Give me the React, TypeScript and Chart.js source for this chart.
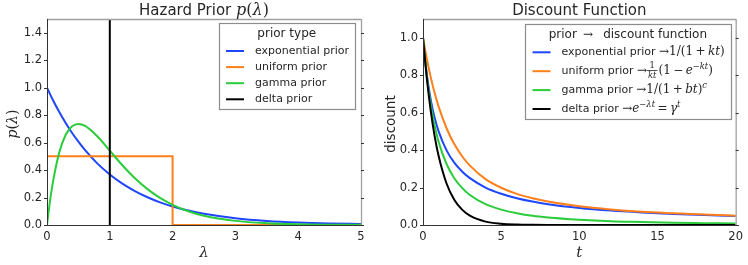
import { useEffect, useRef } from 'react';
import { Chart, registerables } from 'chart.js';
Chart.register(...registerables);

// ---------- data ----------
const LAMBDA = [0, 0.05, 0.1, 0.2, 0.3, 0.4, 0.5, 0.6, 0.8, 1.0, 1.2, 1.4, 1.6, 1.8, 2.0, 2.25, 2.5, 3, 3.5, 4, 4.5, 5];
const EXP_PRIOR = [1.0, 0.951, 0.905, 0.819, 0.741, 0.670, 0.607, 0.549, 0.449, 0.368, 0.301, 0.247, 0.202, 0.165, 0.135, 0.105, 0.082, 0.050, 0.030, 0.018, 0.011, 0.007];
const GAMMA_PRIOR = [0, 0.181, 0.327, 0.536, 0.659, 0.719, 0.736, 0.723, 0.646, 0.541, 0.435, 0.340, 0.261, 0.197, 0.147, 0.100, 0.067, 0.030, 0.013, 0.005, 0.002, 0.001];
const UNIFORM_X = [0, 2, 2, 5];
const UNIFORM_PRIOR = [0.5, 0.5, 0, 0];
const DELTA_X = [1, 1];
const DELTA_PRIOR = [0, 1.5];

const T = [0, 0.25, 0.5, 0.75, 1, 1.5, 2, 2.5, 3, 4, 5, 6, 7, 8, 10, 12, 14, 16, 18, 20];
const EXP_DISCOUNT = [1, 0.8, 0.667, 0.571, 0.5, 0.4, 0.333, 0.286, 0.25, 0.2, 0.167, 0.143, 0.125, 0.111, 0.091, 0.077, 0.067, 0.059, 0.053, 0.048];
const UNIFORM_DISCOUNT = [1, 0.885, 0.787, 0.703, 0.632, 0.518, 0.432, 0.367, 0.317, 0.245, 0.199, 0.166, 0.143, 0.125, 0.1, 0.083, 0.071, 0.063, 0.056, 0.05];
const GAMMA_DISCOUNT = [1, 0.790, 0.64, 0.529, 0.444, 0.327, 0.25, 0.198, 0.16, 0.111, 0.082, 0.063, 0.049, 0.04, 0.028, 0.020, 0.016, 0.012, 0.010, 0.008];
const DELTA_DISCOUNT = [1, 0.779, 0.607, 0.472, 0.368, 0.223, 0.135, 0.082, 0.050, 0.018, 0.0067, 0.0025, 0.0009, 0.0003, 0, 0, 0, 0, 0, 0];

const PRIOR_X_TICKS = [0, 1, 2, 3, 4, 5];
const PRIOR_Y_TICKS = [0, 0.2, 0.4, 0.6, 0.8, 1.0, 1.2, 1.4];
const DISC_X_TICKS = [0, 5, 10, 15, 20];
const DISC_Y_TICKS = [0, 0.2, 0.4, 0.6, 0.8, 1.0];

// ---------- style ----------
const SANS = '"DejaVu Sans", sans-serif';
const SERIF = '"DejaVu Serif", serif';
const TEXT = '#262626';
const BLUE = '#1f46ff';
const ORANGE = '#ff7f1a';
const GREEN = '#2bcc3b';
const BLACK = '#000000';
const THIN = '\u2009';

type Seg = { t: string; f: 'sans' | 'rm' | 'it'; sup?: boolean } | { num: Seg[]; den: Seg[] };

function fontOf(f: string, size: number) {
  if (f === 'sans') return `${size}px ${SANS}`;
  if (f === 'it') return `italic ${size}px ${SERIF}`;
  return `${size}px ${SERIF}`;
}

function rich(ctx: CanvasRenderingContext2D, segs: Seg[], x: number, base: number, size: number, mathSize: number, draw: boolean): number {
  let cx = x;
  for (const s of segs) {
    if ('num' in s) {
      const fs = mathSize * 0.7;
      const wn = rich(ctx, s.num, 0, 0, fs, fs, false);
      const wd = rich(ctx, s.den, 0, 0, fs, fs, false);
      const w = Math.max(wn, wd) + 2;
      if (draw) {
        rich(ctx, s.num, cx + (w - wn) / 2, base - mathSize * 0.5, fs, fs, true);
        rich(ctx, s.den, cx + (w - wd) / 2, base + mathSize * 0.32, fs, fs, true);
        ctx.fillRect(cx, base - mathSize * 0.34, w, 0.8);
      }
      cx += w + 1;
    } else {
      const sz = s.f === 'sans' ? size : mathSize;
      const fsz = s.sup ? sz * 0.7 : sz;
      ctx.font = fontOf(s.f, fsz);
      const w = ctx.measureText(s.t).width;
      if (draw) ctx.fillText(s.t, cx, s.sup ? base - sz * 0.42 : base);
      cx += w;
    }
  }
  return cx - x;
}

interface Decor {
  title: Seg[];
  xlabel: Seg[];
  ylabel: Seg[];
  ylabelBase: number;
  legendTitle: Seg[];
  entries: { color: string; segs: Seg[] }[];
  rowGap: number;
  firstRow: number;
  legendTop: number;
  legendRightGap: number;
}

function decorPlugin(d: Decor) {
  return {
    id: 'decor',
    afterDraw(chart: any) {
      const ctx: CanvasRenderingContext2D = chart.ctx;
      const a = chart.chartArea;
      const ys = chart.scales.y;
      ctx.save();
      // spines
      ctx.lineWidth = 1.3;
      ctx.strokeStyle = '#a0a0a0';
      ctx.beginPath();
      ctx.moveTo(a.left, a.top + 0.5);
      ctx.lineTo(a.right, a.top + 0.5);
      ctx.moveTo(a.right + 0.5, a.top);
      ctx.lineTo(a.right + 0.5, a.bottom);
      ctx.stroke();
      ctx.lineWidth = 1;
      ctx.strokeStyle = '#333333';
      ctx.beginPath();
      ctx.moveTo(a.left + 0.5, a.top);
      ctx.lineTo(a.left + 0.5, a.bottom + 0.5);
      ctx.moveTo(a.left, a.bottom + 0.5);
      ctx.lineTo(a.right + 3, a.bottom + 0.5);
      for (const tk of ys.ticks) {
        const py = Math.round(ys.getPixelForValue(tk.value)) + 0.5;
        ctx.moveTo(a.left - 3, py);
        ctx.lineTo(a.left, py);
        ctx.moveTo(a.right, py);
        ctx.lineTo(a.right + 3, py);
      }
      ctx.stroke();

      ctx.fillStyle = TEXT;
      ctx.textBaseline = 'alphabetic';
      ctx.textAlign = 'left';
      const cxm = (a.left + a.right) / 2;
      // title
      const tw = rich(ctx, d.title, 0, 0, 15, 16, false);
      rich(ctx, d.title, cxm - tw / 2, 15, 15, 16, true);
      // x label
      const xw = rich(ctx, d.xlabel, 0, 0, 14, 15, false);
      rich(ctx, d.xlabel, cxm - xw / 2, 256.5, 14, 15, true);
      // y label
      const yw = rich(ctx, d.ylabel, 0, 0, 13.5, 14, false);
      ctx.save();
      ctx.translate(d.ylabelBase, 124);
      ctx.rotate(-Math.PI / 2);
      rich(ctx, d.ylabel, -yw / 2, 0, 13.5, 14, true);
      ctx.restore();

      // legend
      const textOff = 36.5;
      let maxW = rich(ctx, d.legendTitle, 0, 0, 12, 12, false) - textOff + 20;
      for (const e of d.entries) maxW = Math.max(maxW, rich(ctx, e.segs, 0, 0, 11, 12, false));
      const bw = textOff + maxW + 6;
      const bx = a.right - d.legendRightGap - bw;
      const by = d.legendTop;
      const lastRow = by + d.firstRow + d.rowGap * (d.entries.length - 1);
      const bh = lastRow + 10.3 - by;
      ctx.fillStyle = '#ffffff';
      ctx.fillRect(bx, by, bw, bh);
      ctx.strokeStyle = '#8c8c8c';
      ctx.lineWidth = 1.2;
      ctx.strokeRect(Math.round(bx) + 0.5, Math.round(by) + 0.5, Math.round(bw), Math.round(bh));
      ctx.fillStyle = TEXT;
      const ltw = rich(ctx, d.legendTitle, 0, 0, 12, 12, false);
      rich(ctx, d.legendTitle, bx + bw / 2 - ltw / 2, by + 14, 12, 12, true);
      d.entries.forEach((e, i) => {
        const ry = by + d.firstRow + d.rowGap * i;
        ctx.strokeStyle = e.color;
        ctx.lineWidth = 2;
        ctx.beginPath();
        ctx.moveTo(bx + 7.5, ry);
        ctx.lineTo(bx + 25.5, ry);
        ctx.stroke();
        ctx.fillStyle = TEXT;
        rich(ctx, e.segs, bx + textOff, ry + 3, 11, 12, true);
      });
      ctx.restore();
    },
  };
}

function pts(xs: number[], ys: number[]) {
  return xs.map((x, i) => ({ x, y: ys[i] }));
}

function line(label: string, data: any[], color: string, order: number, smooth: boolean) {
  return {
    label,
    data,
    borderColor: color,
    backgroundColor: color,
    borderWidth: 2,
    pointRadius: 0,
    fill: false,
    order,
    tension: 0,
    cubicInterpolationMode: smooth ? 'monotone' : 'default',
  };
}

function scales(xTicks: number[], yTicks: number[], xmax: number, ymax: number, yWidth: number) {
  const tickFont = { family: SANS, size: 11.5 };
  return {
    x: {
      type: 'linear',
      min: 0,
      max: xmax,
      afterBuildTicks: (s: any) => { s.ticks = xTicks.map((v) => ({ value: v })); },
      afterFit: (s: any) => { s.height = 40; },
      ticks: { font: tickFont, color: TEXT, padding: 5, maxRotation: 0, autoSkip: false, callback: (v: any) => String(v) },
      grid: { display: false, drawTicks: false },
      border: { display: false },
    },
    y: {
      type: 'linear',
      min: 0,
      max: ymax,
      afterBuildTicks: (s: any) => { s.ticks = yTicks.map((v) => ({ value: v })); },
      afterFit: (s: any) => { s.width = yWidth; },
      ticks: { font: tickFont, color: TEXT, padding: 5, autoSkip: false, callback: (v: any) => Number(v).toFixed(1) },
      grid: { display: false, drawTicks: false },
      border: { display: false },
    },
  };
}

const PRIOR_DECOR: Decor = {
  title: [{ t: 'Hazard Prior ', f: 'sans' }, { t: 'p', f: 'it' }, { t: '(', f: 'rm' }, { t: 'λ', f: 'it' }, { t: ')', f: 'rm' }],
  xlabel: [{ t: 'λ', f: 'it' }],
  ylabel: [{ t: 'p', f: 'it' }, { t: '(', f: 'rm' }, { t: 'λ', f: 'it' }, { t: ')', f: 'rm' }],
  ylabelBase: 17,
  legendTitle: [{ t: 'prior type', f: 'sans' }],
  entries: [
    { color: BLUE, segs: [{ t: 'exponential prior', f: 'sans' }] },
    { color: ORANGE, segs: [{ t: 'uniform prior', f: 'sans' }] },
    { color: GREEN, segs: [{ t: 'gamma prior', f: 'sans' }] },
    { color: BLACK, segs: [{ t: 'delta prior', f: 'sans' }] },
  ],
  rowGap: 16.1,
  firstRow: 27.7,
  legendTop: 23.3,
  legendRightGap: 6,
};

const DISC_DECOR: Decor = {
  title: [{ t: 'Discount Function', f: 'sans' }],
  xlabel: [{ t: 't', f: 'it' }],
  ylabel: [{ t: 'discount', f: 'sans' }],
  ylabelBase: 20.5,
  legendTitle: [{ t: 'prior ', f: 'sans' }, { t: `${THIN}→${THIN}`, f: 'rm' }, { t: '  discount function', f: 'sans' }],
  entries: [
    { color: BLUE, segs: [{ t: 'exponential prior ', f: 'sans' }, { t: '→', f: 'rm' }, { t: `1/(1${THIN}+${THIN}`, f: 'rm' }, { t: 'kt', f: 'it' }, { t: ')', f: 'rm' }] },
    { color: ORANGE, segs: [{ t: 'uniform prior ', f: 'sans' }, { t: '→', f: 'rm' }, { num: [{ t: '1', f: 'rm' }], den: [{ t: 'kt', f: 'it' }] }, { t: `(1${THIN}−${THIN}`, f: 'rm' }, { t: 'e', f: 'it' }, { t: '−', f: 'rm', sup: true }, { t: 'kt', f: 'it', sup: true }, { t: ')', f: 'rm' }] },
    { color: GREEN, segs: [{ t: 'gamma prior ', f: 'sans' }, { t: '→', f: 'rm' }, { t: `1/(1${THIN}+${THIN}`, f: 'rm' }, { t: 'bt', f: 'it' }, { t: ')', f: 'rm' }, { t: 'c', f: 'it', sup: true }] },
    { color: BLACK, segs: [{ t: 'delta prior ', f: 'sans' }, { t: '→', f: 'rm' }, { t: 'e', f: 'it' }, { t: '−', f: 'rm', sup: true }, { t: 'λt', f: 'it', sup: true }, { t: `${THIN}=${THIN}`, f: 'rm' }, { t: 'γ', f: 'it' }, { t: 't', f: 'it', sup: true }] },
  ],
  rowGap: 18.9,
  firstRow: 28.3,
  legendTop: 24,
  legendRightGap: 5,
};

export default function App() {
  const leftRef = useRef<HTMLCanvasElement>(null);
  const rightRef = useRef<HTMLCanvasElement>(null);

  useEffect(() => {
    const left = new Chart(leftRef.current!, {
      type: 'line',
      data: {
        datasets: [
          line('exponential prior', pts(LAMBDA, EXP_PRIOR), BLUE, 3, true),
          line('uniform prior', pts(UNIFORM_X, UNIFORM_PRIOR), ORANGE, 2, false),
          line('gamma prior', pts(LAMBDA, GAMMA_PRIOR), GREEN, 1, true),
          line('delta prior', pts(DELTA_X, DELTA_PRIOR), BLACK, 0, false),
        ] as any,
      },
      options: {
        animation: false,
        responsive: false,
        layout: { padding: { left: 0, right: 13, top: 19, bottom: 0 } },
        plugins: { legend: { display: false }, title: { display: false }, tooltip: { enabled: false } },
        scales: scales(PRIOR_X_TICKS, PRIOR_Y_TICKS, 5, 1.5, 47) as any,
      },
      plugins: [decorPlugin(PRIOR_DECOR)],
    });
    const right = new Chart(rightRef.current!, {
      type: 'line',
      data: {
        datasets: [
          line('exponential prior', pts(T, EXP_DISCOUNT), BLUE, 3, true),
          line('uniform prior', pts(T, UNIFORM_DISCOUNT), ORANGE, 2, true),
          line('gamma prior', pts(T, GAMMA_DISCOUNT), GREEN, 1, true),
          line('delta prior', pts(T, DELTA_DISCOUNT), BLACK, 0, true),
        ] as any,
      },
      options: {
        animation: false,
        responsive: false,
        layout: { padding: { left: 0, right: 12, top: 19, bottom: 0 } },
        plugins: { legend: { display: false }, title: { display: false }, tooltip: { enabled: false } },
        scales: scales(DISC_X_TICKS, DISC_Y_TICKS, 20, 1.1, 49) as any,
      },
      plugins: [decorPlugin(DISC_DECOR)],
    });
    return () => {
      left.destroy();
      right.destroy();
    };
  }, []);

  return (
    <div style={{ position: 'absolute', left: 0, top: 0, width: 748, height: 265, display: 'flex', background: '#fff' }}>
      <canvas ref={leftRef} width={374} height={265} style={{ width: 374, height: 265 }} />
      <canvas ref={rightRef} width={374} height={265} style={{ width: 374, height: 265 }} />
    </div>
  );
}
